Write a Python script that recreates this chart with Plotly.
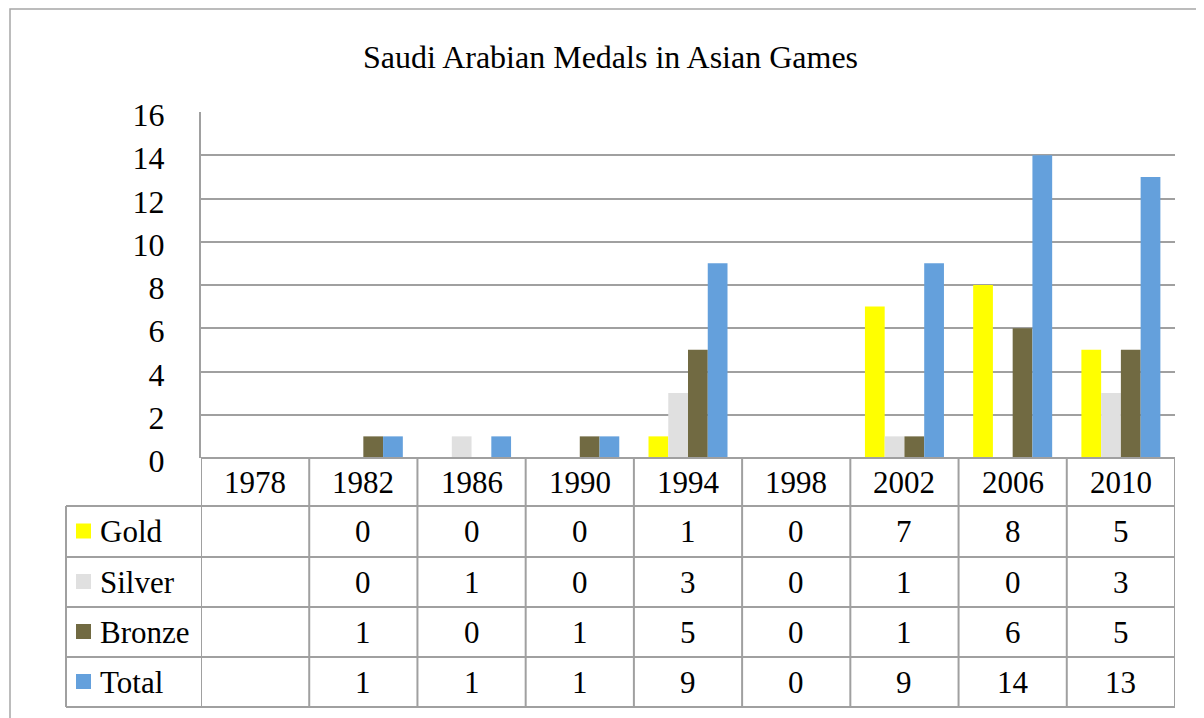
import plotly.graph_objects as go

years = ["1978", "1982", "1986", "1990", "1994", "1998", "2002", "2006", "2010"]
gold = [None, 0, 0, 0, 1, 0, 7, 8, 5]
silver = [None, 0, 1, 0, 3, 0, 1, 0, 3]
bronze = [None, 1, 0, 1, 5, 0, 1, 6, 5]
total = [None, 1, 1, 1, 9, 0, 9, 14, 13]

series = [
    ("Gold", gold, "#FFFF00"),
    ("Silver", silver, "#E0E0E0"),
    ("Bronze", bronze, "#716A42"),
    ("Total", total, "#64A0DC"),
]

W, H = 1204, 718
OFF = 8  # page body margin
FONT = "Liberation Serif"
GRID = "#A0A0A0"


def py(v):
    # pixel row -> paper y
    return 1 - (v - OFF) / H


def px(v):
    return (v - OFF) / W


plot_left, plot_right = 201, 1175
plot_top, plot_bottom = 112, 458
rows = [458, 506, 557, 607, 657, 707]  # table row borders
legend_left = 66
idx = list(range(len(years)))

fig = go.Figure()
for name, vals, color in series:
    fig.add_trace(go.Bar(x=idx, y=vals, name=name, marker_color=color,
                         marker_line_width=0, showlegend=False))

shapes = []
annotations = []

# outer chart frame
shapes.append(dict(type="rect", xref="paper", yref="paper",
                   x0=px(10), x1=px(1230), y0=py(9), y1=py(740),
                   line=dict(color="#A6A6A6", width=1.5)))

# horizontal table lines
for i, r in enumerate(rows):
    x0 = plot_left if i == 0 else legend_left
    shapes.append(dict(type="line", xref="paper", yref="paper",
                       x0=px(x0), x1=px(plot_right), y0=py(r), y1=py(r),
                       line=dict(color=GRID, width=2)))

# vertical table lines at category boundaries
for k in range(len(years) + 1):
    shapes.append(dict(type="line", xref="x", yref="paper",
                       x0=k - 0.5, x1=k - 0.5, y0=py(rows[0]), y1=py(rows[-1]),
                       line=dict(color=GRID, width=2)))
shapes.append(dict(type="line", xref="paper", yref="paper",
                   x0=px(legend_left), x1=px(legend_left),
                   y0=py(rows[1]), y1=py(rows[-1]),
                   line=dict(color=GRID, width=2)))

cell_font = dict(size=31, color="black", family=FONT)

# header row with years
for i, yr in zip(idx, years):
    annotations.append(dict(x=i, xref="x", y=py((rows[0] + rows[1]) / 2),
                            yref="paper", text=yr, showarrow=False,
                            xanchor="center", yanchor="middle", font=cell_font))

# series rows
for j, (name, vals, color) in enumerate(series):
    ymid = (rows[j + 1] + rows[j + 2]) / 2
    yc = py(ymid)
    shapes.append(dict(type="rect", xref="paper", yref="paper",
                       x0=px(76), x1=px(91), y0=py(ymid + 7), y1=py(ymid - 8),
                       fillcolor=color, line=dict(width=0)))
    annotations.append(dict(x=px(98), xref="paper", y=yc, yref="paper",
                            text=name, showarrow=False, xanchor="left",
                            yanchor="middle", font=cell_font))
    for i, v in zip(idx, vals):
        annotations.append(dict(x=i, xref="x", y=yc, yref="paper",
                                text="" if v is None else str(v), showarrow=False,
                                xanchor="center", yanchor="middle", font=cell_font))

annotations.append(dict(x=px(610), y=py(57), xref="paper", yref="paper",
                        text="Saudi Arabian Medals in Asian Games", showarrow=False,
                        xanchor="center", yanchor="middle",
                        font=dict(size=32, color="black", family=FONT)))

fig.update_layout(
    template="none",
    width=W, height=H,
    margin=dict(l=0, r=0, t=0, b=0),
    paper_bgcolor="white", plot_bgcolor="white",
    barmode="group", bargap=0.27, bargroupgap=0,
    xaxis=dict(domain=[px(plot_left), px(plot_right)], range=[-0.5, len(years) - 0.5],
               showticklabels=False, automargin=False,
               showgrid=False, zeroline=False, showline=False),
    yaxis=dict(domain=[py(plot_bottom), py(plot_top)], range=[0, 16], dtick=2,
               automargin=False,
               showgrid=True, gridcolor=GRID, gridwidth=2,
               zeroline=False, showline=True, linecolor=GRID, linewidth=2,
               ticks="", ticklabelstandoff=28, ticklabelshift=3,
               tickfont=dict(size=32, color="black", family=FONT)),
    shapes=shapes,
    annotations=annotations,
)

fig.write_html("out.html")
